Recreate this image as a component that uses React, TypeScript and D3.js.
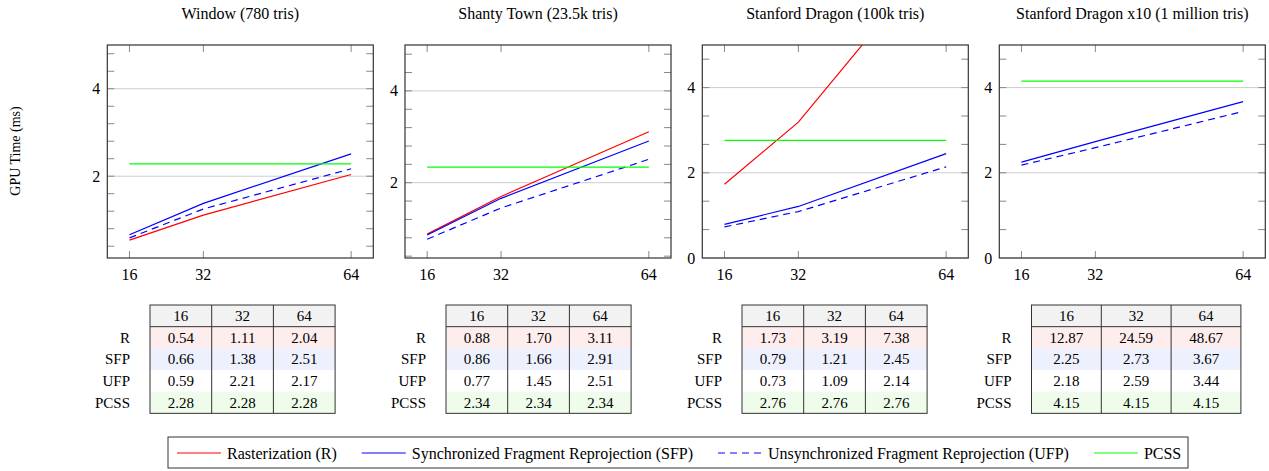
import React, { useEffect, useRef } from 'react';
import * as d3 from 'd3';

const sceneTitles = [
  'Window (780 tris)',
  'Shanty Town (23.5k tris)',
  'Stanford Dragon (100k tris)',
  'Stanford Dragon x10 (1 million tris)',
];
const sampleCounts = [16, 32, 64];
const rowLabels = ['R', 'SFP', 'UFP', 'PCSS'];

// values as printed in the tables (per scene, per sample count)
const rasterization = [[0.54, 1.11, 2.04], [0.88, 1.70, 3.11], [1.73, 3.19, 7.38], [12.87, 24.59, 48.67]];
const syncFP = [[0.66, 1.38, 2.51], [0.86, 1.66, 2.91], [0.79, 1.21, 2.45], [2.25, 2.73, 3.67]];
const unsyncFP = [[0.59, 2.21, 2.17], [0.77, 1.45, 2.51], [0.73, 1.09, 2.14], [2.18, 2.59, 3.44]];
const pcss = [[2.28, 2.28, 2.28], [2.34, 2.34, 2.34], [2.76, 2.76, 2.76], [4.15, 4.15, 4.15]];
// UFP as drawn in the plots (window @32 is drawn near 1.25, not 2.21)
const unsyncFPPlotted = [[0.59, 1.25, 2.17], [0.77, 1.45, 2.51], [0.73, 1.09, 2.14], [2.18, 2.59, 3.44]];

const yDomains = [[0.13, 5], [0.36, 5], [0, 5], [0, 5]];
const yMajorTicks = [[2, 4], [2, 4], [0, 2, 4], [0, 2, 4]];
const yMinorSteps = [0.4, 0.4, 2 / 3, 2 / 3];

const legendItems = [
  { label: 'Rasterization (R)', color: '#ff0000', dash: null },
  { label: 'Synchronized Fragment Reprojection (SFP)', color: '#0000ff', dash: null },
  { label: 'Unsynchronized Fragment Reprojection (UFP)', color: '#0000ff', dash: '7,5' },
  { label: 'PCSS', color: '#00ff00', dash: null },
];

const FONT = '"Liberation Serif", "Times New Roman", serif';

export default function App() {
  const ref = useRef<SVGSVGElement>(null);

  useEffect(() => {
    const svg = d3.select(ref.current);
    svg.selectAll('*').remove();

    const plotLefts = [107.3, 405, 702.3, 999.3];
    const plotW = 266;
    const top = 45, bottom = 258;

    svg.append('text')
      .attr('transform', `translate(15,151) rotate(-90)`)
      .attr('text-anchor', 'middle')
      .attr('dominant-baseline', 'central')
      .style('font-size', '14px')
      .text('GPU Time (ms)');

    sceneTitles.forEach((title, i) => {
      const x = d3.scaleLinear().domain([11.2, 68.8]).range([plotLefts[i], plotLefts[i] + plotW]);
      const y = d3.scaleLinear().domain(yDomains[i]).range([bottom, top]);
      const g = svg.append('g');

      g.append('text')
        .attr('x', plotLefts[i] + plotW / 2)
        .attr('y', 19)
        .attr('text-anchor', 'middle')
        .style('font-size', '16px')
        .text(title);

      const x0 = plotLefts[i], x1 = plotLefts[i] + plotW;

      // grid lines at major y ticks
      yMajorTicks[i].forEach(v => {
        g.append('line').attr('x1', x0).attr('x2', x1).attr('y1', y(v)).attr('y2', y(v))
          .attr('stroke', '#cccccc').attr('stroke-width', 1);
      });

      // minor y ticks
      const minors = d3.range(-20, 20).map(k => 2 + k * yMinorSteps[i])
        .filter(v => v > yDomains[i][0] + 0.01 && v < yDomains[i][1] - 0.01)
        .filter(v => !yMajorTicks[i].some(m => Math.abs(m - v) < 0.01));
      const allY = minors.concat(yMajorTicks[i].filter(v => v > yDomains[i][0]));
      allY.forEach(v => {
        g.append('line').attr('x1', x0).attr('x2', x0 + 7).attr('y1', y(v)).attr('y2', y(v))
          .attr('stroke', '#888').attr('stroke-width', 1);
        g.append('line').attr('x1', x1 - 7).attr('x2', x1).attr('y1', y(v)).attr('y2', y(v))
          .attr('stroke', '#888').attr('stroke-width', 1);
      });

      sampleCounts.forEach(s => {
        g.append('line').attr('x1', x(s)).attr('x2', x(s)).attr('y1', bottom).attr('y2', bottom - 7)
          .attr('stroke', '#888').attr('stroke-width', 1);
        g.append('line').attr('x1', x(s)).attr('x2', x(s)).attr('y1', top).attr('y2', top + 7)
          .attr('stroke', '#888').attr('stroke-width', 1);
        g.append('text')
          .attr('x', x(s)).attr('y', 280)
          .attr('text-anchor', 'middle')
          .style('font-size', '16px')
          .text(s);
      });

      yMajorTicks[i].forEach(v => {
        g.append('text')
          .attr('x', x0 - 7).attr('y', y(v) + 5.5)
          .attr('text-anchor', 'end')
          .style('font-size', '16px')
          .text(v);
      });

      const clipId = `clip${i}`;
      svg.append('clipPath').attr('id', clipId)
        .append('rect').attr('x', x0).attr('y', top).attr('width', plotW).attr('height', bottom - top);

      const line = d3.line<number>()
        .x((d, j) => x(sampleCounts[j]))
        .y(d => y(d));

      const series = [
        { vals: rasterization[i], color: '#ff0000', dash: null },
        { vals: syncFP[i], color: '#0000ff', dash: null },
        { vals: unsyncFPPlotted[i], color: '#0000ff', dash: '7,5' },
        { vals: pcss[i], color: '#00ff00', dash: null },
      ];
      const lines = g.append('g').attr('clip-path', `url(#${clipId})`);
      series.forEach(s => {
        lines.append('path')
          .attr('d', line(s.vals))
          .attr('fill', 'none')
          .attr('stroke', s.color)
          .attr('stroke-width', 1.2)
          .attr('stroke-dasharray', s.dash);
      });

      g.append('rect').attr('x', x0).attr('y', top).attr('width', plotW).attr('height', bottom - top)
        .attr('fill', 'none').attr('stroke', '#333').attr('stroke-width', 1.2);
    });

    // tables
    const tableLefts = [150, 446, 742, 1031.5];
    const colWidths = [61.7, 61.7, 61.7, 69.8];
    const tTop = 305, rowH = 21.67;
    const rowFills = ['#fdeded', '#edf0fd', '#ffffff', '#effcec'];
    const tableRows = [rasterization, syncFP, unsyncFP, pcss];

    tableLefts.forEach((tx, i) => {
      const cw = colWidths[i];
      const g = svg.append('g').style('font-size', '15px');
      const tw = cw * 3;
      g.append('rect').attr('x', tx).attr('y', tTop).attr('width', tw).attr('height', rowH).attr('fill', '#f2f2f2');
      rowLabels.forEach((lab, r) => {
        const ry = tTop + rowH * (r + 1);
        g.append('rect').attr('x', tx).attr('y', ry).attr('width', tw).attr('height', rowH).attr('fill', rowFills[r]);
        g.append('text').attr('x', tx - 20).attr('y', ry + rowH / 2 + 5).attr('text-anchor', 'end').text(lab);
        tableRows[r][i].forEach((v, c) => {
          g.append('text').attr('x', tx + cw * (c + 0.5)).attr('y', ry + rowH / 2 + 5)
            .attr('text-anchor', 'middle').text(v.toFixed(2));
        });
      });
      sampleCounts.forEach((s, c) => {
        g.append('text').attr('x', tx + cw * (c + 0.5)).attr('y', tTop + rowH / 2 + 5)
          .attr('text-anchor', 'middle').text(s);
      });
      [1, 2].forEach(c => {
        g.append('line').attr('x1', tx + cw * c).attr('x2', tx + cw * c)
          .attr('y1', tTop).attr('y2', tTop + rowH * 5).attr('stroke', '#333').attr('stroke-width', 1);
      });
      g.append('line').attr('x1', tx).attr('x2', tx + tw).attr('y1', tTop + rowH).attr('y2', tTop + rowH)
        .attr('stroke', '#333').attr('stroke-width', 1);
      g.append('rect').attr('x', tx).attr('y', tTop).attr('width', tw).attr('height', rowH * 5)
        .attr('fill', 'none').attr('stroke', '#333').attr('stroke-width', 1);
    });

    // legend
    const lg = svg.append('g');
    lg.append('rect').attr('x', 168).attr('y', 437).attr('width', 1020).attr('height', 31)
      .attr('fill', 'none').attr('stroke', '#333').attr('stroke-width', 1);
    let lx = 177;
    legendItems.forEach(it => {
      lg.append('line').attr('x1', lx).attr('x2', lx + 44).attr('y1', 453).attr('y2', 453)
        .attr('stroke', it.color).attr('stroke-width', 1.2).attr('stroke-dasharray', it.dash);
      const t = lg.append('text').attr('x', lx + 50).attr('y', 458.5)
        .style('font-size', '16px').text(it.label);
      const w = (t.node() as SVGTextElement).getComputedTextLength();
      lx = lx + 50 + w + 25;
    });
  }, []);

  return (
    <div style={{ position: 'absolute', left: 0, top: 0 }}>
      <svg ref={ref} width={1269} height={471} style={{ display: 'block', fontFamily: FONT }} />
    </div>
  );
}
